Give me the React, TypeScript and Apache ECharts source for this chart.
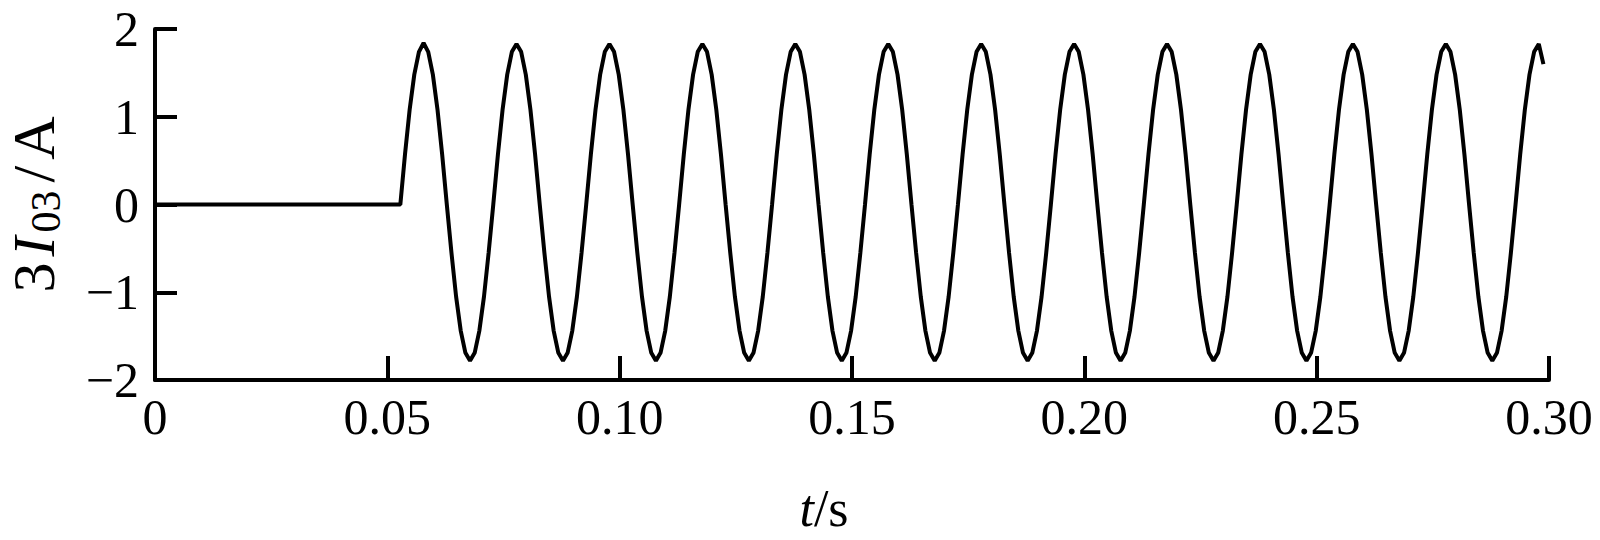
import React, { useEffect, useRef } from "react";
import * as echarts from "echarts";

// Axis ticks
const xTickValues = [0, 0.05, 0.1, 0.15, 0.2, 0.25, 0.3];
const yTickValues = [-2, -1, 0, 1, 2];

// Flat (pre-fault) part of the trace: time (s), current (A)
const flatTimes = [0, 0.0524];
const flatValues = [0, 0];

// Sampled waveform after the fault: uniform sample grid (s)
const waveStart = 0.0528;
const waveStep = 0.001;
// Current samples 3I03 (A), one sample per ms
const waveValues = [
  0, 0.57, 1.08, 1.48, 1.74, 1.84, 1.74, 1.48, 1.08, 0.57, 0, -0.55, -1.05, -1.44, -1.69, -1.78, -1.69, -1.44, -1.05, -0.55,
  0, 0.57, 1.08, 1.48, 1.74, 1.83, 1.74, 1.48, 1.08, 0.57, 0, -0.55, -1.05, -1.44, -1.69, -1.78, -1.69, -1.44, -1.05, -0.55,
  0, 0.57, 1.08, 1.48, 1.74, 1.83, 1.74, 1.48, 1.08, 0.57, 0, -0.55, -1.05, -1.44, -1.69, -1.78, -1.69, -1.44, -1.05, -0.55,
  0, 0.57, 1.08, 1.48, 1.74, 1.83, 1.74, 1.48, 1.08, 0.57, 0, -0.55, -1.05, -1.44, -1.69, -1.78, -1.69, -1.44, -1.05, -0.55,
  0, 0.57, 1.08, 1.48, 1.74, 1.83, 1.74, 1.48, 1.08, 0.57, 0, -0.55, -1.05, -1.44, -1.69, -1.78, -1.69, -1.44, -1.05, -0.55,
  0, 0.57, 1.08, 1.48, 1.74, 1.83, 1.74, 1.48, 1.08, 0.57, 0, -0.55, -1.05, -1.44, -1.69, -1.78, -1.69, -1.44, -1.05, -0.55,
  0, 0.57, 1.08, 1.48, 1.74, 1.83, 1.74, 1.48, 1.08, 0.57, 0, -0.55, -1.05, -1.44, -1.69, -1.78, -1.69, -1.44, -1.05, -0.55,
  0, 0.57, 1.08, 1.48, 1.74, 1.83, 1.74, 1.48, 1.08, 0.57, 0, -0.55, -1.05, -1.44, -1.69, -1.78, -1.69, -1.44, -1.05, -0.55,
  0, 0.57, 1.08, 1.48, 1.74, 1.83, 1.74, 1.48, 1.08, 0.57, 0, -0.55, -1.05, -1.44, -1.69, -1.78, -1.69, -1.44, -1.05, -0.55,
  0, 0.57, 1.08, 1.48, 1.74, 1.83, 1.74, 1.48, 1.08, 0.57, 0, -0.55, -1.05, -1.44, -1.69, -1.78, -1.69, -1.44, -1.05, -0.55,
  0, 0.57, 1.08, 1.48, 1.74, 1.83, 1.74, 1.48, 1.08, 0.57, 0, -0.55, -1.05, -1.44, -1.69, -1.78, -1.69, -1.44, -1.05, -0.55,
  0, 0.57, 1.08, 1.48, 1.74, 1.83, 1.74, 1.48, 1.08, 0.57, 0, -0.55, -1.05, -1.44, -1.69, -1.78, -1.69, -1.44, -1.05, -0.55,
  0, 0.57, 1.08, 1.48, 1.74, 1.83, 1.6,
];

const FONT = "'Liberation Serif', 'Times New Roman', serif";

export default function App() {
  const ref = useRef<HTMLDivElement>(null);

  useEffect(() => {
    if (!ref.current) return;
    const chart = echarts.init(ref.current, null, { renderer: "svg" });

    const data: number[][] = [
      ...flatTimes.map((t, i) => [t, flatValues[i]]),
      ...waveValues.map((v, i) => [Number((waveStart + i * waveStep).toFixed(4)), v]),
    ];

    const axisLine = { show: true, onZero: false, lineStyle: { color: "#000", width: 4 } };
    const labelStyle = { color: "#000", fontFamily: FONT, fontSize: 50 };

    chart.setOption({
      animation: false,
      backgroundColor: "#fff",
      grid: { left: 155, right: 51, top: 29, bottom: 160, containLabel: false, outerBoundsMode: "none" },
      xAxis: {
        type: "value",
        min: xTickValues[0],
        max: xTickValues[xTickValues.length - 1],
        interval: 0.05,
        axisLine,
        axisTick: { show: true, inside: true, length: 24, lineStyle: { color: "#000", width: 4 } },
        splitLine: { show: false },
        axisLabel: {
          ...labelStyle,
          margin: 12,
          formatter: (v: number) => (v === 0 ? "0" : v.toFixed(2)),
        },
        name: "{i|t}{n|/s}",
        nameLocation: "middle",
        nameGap: 102,
        nameTextStyle: {
          color: "#000",
          padding: [0, 56, 0, 0],
          rich: {
            i: { fontFamily: FONT, fontSize: 52, fontStyle: "italic", color: "#000" },
            n: { fontFamily: FONT, fontSize: 52, color: "#000" },
          },
        },
      },
      yAxis: {
        type: "value",
        min: yTickValues[0],
        max: yTickValues[yTickValues.length - 1],
        interval: 1,
        axisLine,
        axisTick: { show: true, inside: true, length: 22, lineStyle: { color: "#000", width: 4 } },
        splitLine: { show: false },
        axisLabel: {
          ...labelStyle,
          margin: 16,
          formatter: (v: number) => (v < 0 ? "\u2212" + Math.abs(v) : String(v)),
        },
        name: "{n|3}{i|I}{s|03}{n|/}{n|A}",
        nameLocation: "middle",
        nameGap: 88,
        nameTextStyle: {
          color: "#000",
          rich: {
            n: { fontFamily: FONT, fontSize: 60, color: "#000", padding: [0, 3, 0, 3] },
            i: { fontFamily: FONT, fontSize: 60, fontStyle: "italic", color: "#000", padding: [0, 3, 0, 3] },
            s: { fontFamily: FONT, fontSize: 42, color: "#000", verticalAlign: "bottom", padding: [24, 5, 0, 1] },
          },
        },
      },
      series: [
        {
          type: "line",
          data,
          showSymbol: false,
          symbol: "none",
          lineStyle: { color: "#000", width: 4 },
          silent: true,
        },
      ],
    });

    return () => chart.dispose();
  }, []);

  return (
    <div
      ref={ref}
      style={{ position: "fixed", left: 0, top: 0, width: 1600, height: 540, background: "#fff" }}
    />
  );
}
